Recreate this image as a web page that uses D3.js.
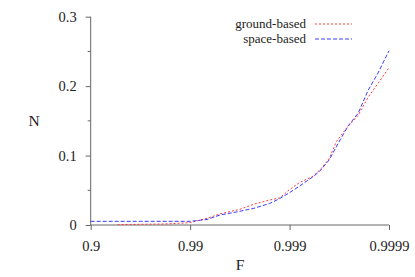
<!DOCTYPE html>
<html>
<head>
<meta charset="utf-8">
<script src="https://cdn.jsdelivr.net/npm/d3@7"></script>
<style>
  body { margin: 0; background: #fff; }
  svg text { font-family: "Liberation Serif", "DejaVu Serif", serif !important; fill: #222; }
</style>
</head>
<body>
<div id="chart"></div>
<script>
// x values are "nines" of F, i.e. -log10(1 - F): 1 -> 0.9, 2 -> 0.99 ...
var groundNines = [1.27, 1.5, 1.75, 2.0, 2.17, 2.3, 2.5, 2.64, 2.8, 2.9, 3.0, 3.1, 3.24, 3.32, 3.4, 3.47, 3.57, 3.69, 3.79, 3.89, 4.0]
var groundN = [0.0005, 0.001, 0.0015, 0.0034, 0.0096, 0.016, 0.0226, 0.030, 0.036, 0.039, 0.051, 0.061, 0.0706, 0.0816, 0.096, 0.12, 0.139, 0.158, 0.184, 0.204, 0.2266]

var spaceNines = [1.0, 1.5, 2.0, 2.17, 2.3, 2.44, 2.64, 2.8, 2.9, 3.0, 3.1, 3.24, 3.3, 3.4, 3.49, 3.59, 3.69, 3.79, 3.89, 4.0]
var spaceN = [0.0053, 0.0053, 0.0053, 0.008, 0.0144, 0.018, 0.024, 0.031, 0.038, 0.0466, 0.056, 0.070, 0.077, 0.094, 0.118, 0.143, 0.161, 0.194, 0.219, 0.251]

var xTicks = [1, 2, 3, 4]
var xTickLabels = ["0.9", "0.99", "0.999", "0.9999"]
var yTicks = [0, 0.1, 0.2, 0.3]
var yMinorTicks = [0.05, 0.15, 0.25]

var width = 415, height = 277
var plotLeft = 90.7, plotRight = 389, plotTop = 16.7, plotBottom = 225
var serif = "Liberation Serif"

var svg = d3.select("#chart").append("svg")
    .attr("width", width)
    .attr("height", height)

var x = d3.scaleLinear().domain([1, 4]).range([plotLeft, plotRight])
var y = d3.scaleLinear().domain([0, 0.3]).range([plotBottom, plotTop])

var axisColor = "#666"

// y axis, ticks on the left
var yAxis = d3.axisLeft(y)
    .tickValues(yTicks)
    .tickSize(5)
    .tickPadding(9)
    .tickFormat(function(d) { return d === 0 ? "0" : d3.format(".1f")(d) })
var gy = svg.append("g").attr("transform", "translate(" + plotLeft + ",0)").call(yAxis)
gy.attr("font-family", serif).attr("font-size", 14.5)
gy.select(".domain").remove()
gy.selectAll("line").attr("stroke", axisColor)
gy.selectAll("text").style("font-family", serif).attr("fill", "#222")

svg.append("g").selectAll("line")
    .data(yMinorTicks)
    .enter()
    .append("line")
    .attr("x1", plotLeft - 3).attr("x2", plotLeft)
    .attr("y1", function(d) { return y(d) }).attr("y2", function(d) { return y(d) })
    .attr("stroke", axisColor)

// x axis
var xAxis = d3.axisBottom(x)
    .tickValues(xTicks)
    .tickSize(5)
    .tickPadding(11)
    .tickFormat(function(d, i) { return xTickLabels[i] })
var gx = svg.append("g").attr("transform", "translate(0," + plotBottom + ")").call(xAxis)
gx.attr("font-family", serif).attr("font-size", 14.5)
gx.select(".domain").remove()
gx.selectAll("line").attr("stroke", axisColor)
gx.selectAll("text").style("font-family", serif).attr("fill", "#222")

svg.append("line")
    .attr("x1", plotLeft).attr("x2", plotRight).attr("y1", plotBottom).attr("y2", plotBottom)
    .attr("stroke", axisColor)
svg.append("line")
    .attr("x1", plotLeft).attr("x2", plotLeft).attr("y1", plotTop).attr("y2", plotBottom)
    .attr("stroke", axisColor)

// axis titles
svg.append("text").attr("x", 240).attr("y", 270).attr("text-anchor", "middle")
    .attr("font-size", 15.5).text("F")
svg.append("text").attr("x", 34).attr("y", 126).attr("text-anchor", "middle")
    .attr("font-size", 15.5).text("N")

var line = d3.line()
    .x(function(d) { return x(d[0]) })
    .y(function(d) { return y(d[1]) })

var series = [
  { name: "ground-based", xs: groundNines, ys: groundN, color: "#ff3a3a", dash: "2,2" },
  { name: "space-based", xs: spaceNines, ys: spaceN, color: "#3a3aff", dash: "4,2" }
]

series.forEach(function(s, i) {
  svg.append("path")
      .datum(s.xs.map(function(v, j) { return [v, s.ys[j]] }))
      .attr("d", line)
      .attr("fill", "none")
      .attr("stroke", s.color)
      .attr("stroke-width", 1)
      .attr("stroke-dasharray", s.dash)

  // legend
  var ly = 24 + i * 15
  svg.append("text").attr("x", 306).attr("y", ly + 4).attr("text-anchor", "end")
      .attr("font-size", 13).text(s.name)
  svg.append("line")
      .attr("x1", 315).attr("x2", 352).attr("y1", ly).attr("y2", ly)
      .attr("stroke", s.color)
      .attr("stroke-dasharray", s.dash)
})
</script>
</body>
</html>
